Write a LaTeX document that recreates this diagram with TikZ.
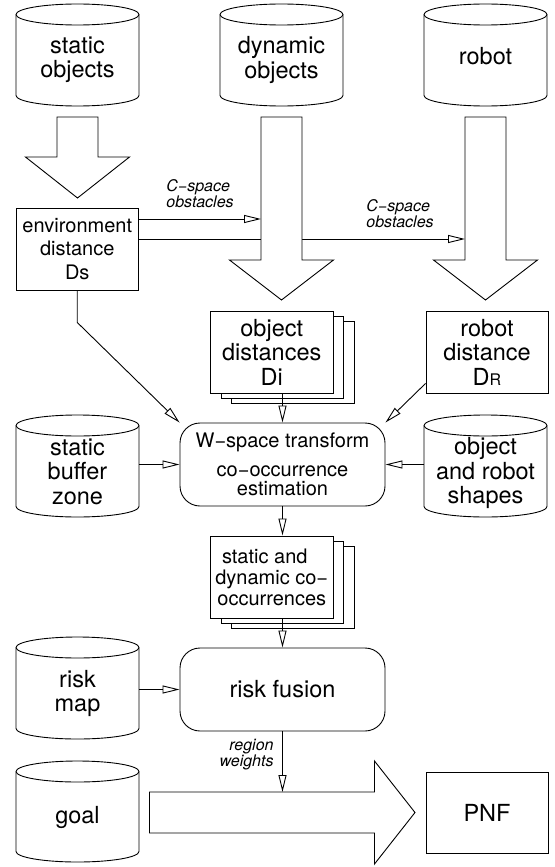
\documentclass[tikz,border=0pt]{standalone}
\usepackage{fontspec}
\setmainfont{TeX Gyre Heros}
\usetikzlibrary{arrows.meta,calc}
\tikzset{
  cyltxt/.style={font=\fontsize{23.5}{24.5}\selectfont, align=center},
  bigtxt/.style={font=\fontsize{23.5}{24.5}\selectfont, align=center},
  smalltxt/.style={font=\fontsize{20}{23.5}\selectfont, align=center},
  lab/.style={font=\fontsize{16}{16}\selectfont\itshape, inner sep=0pt},
  conn/.style={-{Triangle[open,length=17pt,width=8pt]}},
  sqbox/.style={draw, fill=white, inner sep=0pt},
  rbox/.style={draw, fill=white, rounded corners=20pt, inner sep=0pt, minimum width=205pt, minimum height=83pt},
  blk/.style={draw, fill=white, line join=miter},
}
% name, x left, x right, y top, y bottom (pixels, down), text, text shift
\newcommand{\dbcyl}[7]{%
  \pgfmathsetmacro\cylcx{(#2+#3)/2}%
  \pgfmathsetmacro\cylrx{(#3-#2)/2}%
  \pgfmathsetmacro\cylyt{-(#4)-10.5}%
  \pgfmathsetmacro\cylyb{-(#5)+10.5}%
  \pgfmathsetmacro\cylcy{-(#4+#5)/2}%
  \pgfmathsetmacro\cylh{#5-#4}%
  \pgfmathsetmacro\cylw{#3-#2}%
  \draw[fill=white] (#2,\cylyt) -- (#2,\cylyb) arc[start angle=180,end angle=360,x radius=\cylrx,y radius=10.5] -- (#3,\cylyt) arc[start angle=0,end angle=180,x radius=\cylrx,y radius=10.5] -- cycle;
  \draw (#2,\cylyt) arc[start angle=180,end angle=360,x radius=\cylrx,y radius=10.5];
  \node[minimum width=\cylw pt, minimum height=\cylh pt, inner sep=0pt,
        label={[cyltxt,yshift=-#7pt]center:{#6}}] (#1) at (\cylcx,\cylcy) {};
}
% center x, y top, y head start, y tip
\newcommand{\blkdown}[4]{%
  \draw[blk] (#1-20.5,-#2) -- (#1+20.5,-#2) -- (#1+20.5,-#3) -- (#1+52,-#3) -- (#1,-#4) -- (#1-52,-#3) -- (#1-20.5,-#3) -- cycle;
}
\begin{document}
\begin{tikzpicture}[x=1pt,y=1pt,line width=0.9pt]
\useasboundingbox (0,0) rectangle (554,-867);

% databases
\dbcyl{so}{16}{139}{4}{106}{static\\objects}{5}
\dbcyl{do}{220}{343}{4}{106}{dynamic\\objects}{5}
\dbcyl{ro}{424}{547}{4}{106}{robot}{1.5}
\dbcyl{buf}{16}{139}{415}{517}{static\\buffer\\zone}{5.7}
\dbcyl{sh}{424}{547}{415}{517}{object\\and robot\\shapes}{7}
\dbcyl{rm}{16}{139}{637}{739}{risk\\map}{5.5}
\dbcyl{goal}{16}{139}{761}{862}{goal}{6}

% environment distance
\node[sqbox, smalltxt, minimum width=122.5pt, minimum height=82pt] (env) at (77.25,-249) {environment\\distance\\Ds};

% C-space obstacle connectors (behind the block arrows)
\coordinate (dynin) at (261,-219);
\coordinate (robin) at (465,-239);
\draw[conn] (env.east |- dynin) -- (dynin);
\draw[conn] (env.east |- robin) -- (robin);
\node[lab, align=left, anchor=west] (l1) at (166,-193.3) {C−space\\obstacles};
\node[lab, align=left, anchor=west] (l2) at (366,-213.3) {C−space\\obstacles};

% block arrows
\blkdown{77.5}{117}{157}{198}
\blkdown{281.5}{117}{260}{300}
\blkdown{485.5}{117}{260}{300}

% object distances stack
\draw[fill=white] (231.5,-321) rectangle (354,-403);
\draw[fill=white] (221,-316) rectangle (343.5,-398);
\node[sqbox, bigtxt, minimum width=122.5pt, minimum height=82pt] (di) at (271.75,-352) {object\\distances\\Di};

% robot distance
\node[sqbox, bigtxt, minimum width=122pt, minimum height=82pt] (rd) at (487,-352) {robot\\distance\\D{\fontsize{16}{16}\selectfont R}};

% W-space transform
\node[rbox, font=\fontsize{20}{18.5}\selectfont, align=center] (ws) at (282.5,-464.5) {W−space transform\\[10.5pt]co−occurrence\\estimation};

% co-occurrences stack
\draw[fill=white] (231.5,-546) rectangle (354,-628);
\draw[fill=white] (221,-541) rectangle (343.5,-623);
\node[sqbox, font=\fontsize{20}{21}\selectfont, align=center, minimum width=122.5pt, minimum height=82pt] (co) at (271.75,-577) {static and\hspace*{14pt}\\dynamic co−\\occurrences};

% risk fusion
\node[rbox, bigtxt] (rf) at (282.5,-689.5) {risk fusion};

% goal block arrow
\draw[blk] (149.5,-792) -- (374.5,-792) -- (374.5,-761) -- (415,-812.5) -- (374.5,-864) -- (374.5,-833) -- (149.5,-833) -- cycle;

% PNF
\node[sqbox, bigtxt, minimum width=122pt, minimum height=81pt] (pnf) at (487,-812.5) {PNF};

% connectors
\draw[conn] (env.south) -- ++(0,-32) -- (ws.north west);
\draw[conn] ($(rd.south west)+(0,10)$) -- (ws.north east);
\draw[conn] (ws.north |- di.south) -- (ws.north);
\draw[conn] (ws.west -| buf.east) -- (ws.west);
\draw[conn] (ws.east -| sh.west) -- (ws.east);
\draw[conn] (ws.south) -- (ws.south |- co.north);
\draw[conn] (rf.north |- co.south) -- (rf.north);
\draw[conn] (rf.west -| rm.east) -- (rf.west);
\coordinate (rwin) at (282.5,-792);
\draw[conn] (rf.south) -- (rwin);
\node[lab, align=right, anchor=east] (l3) at (274,-754.5) {region\\weights};
\end{tikzpicture}
\end{document}
